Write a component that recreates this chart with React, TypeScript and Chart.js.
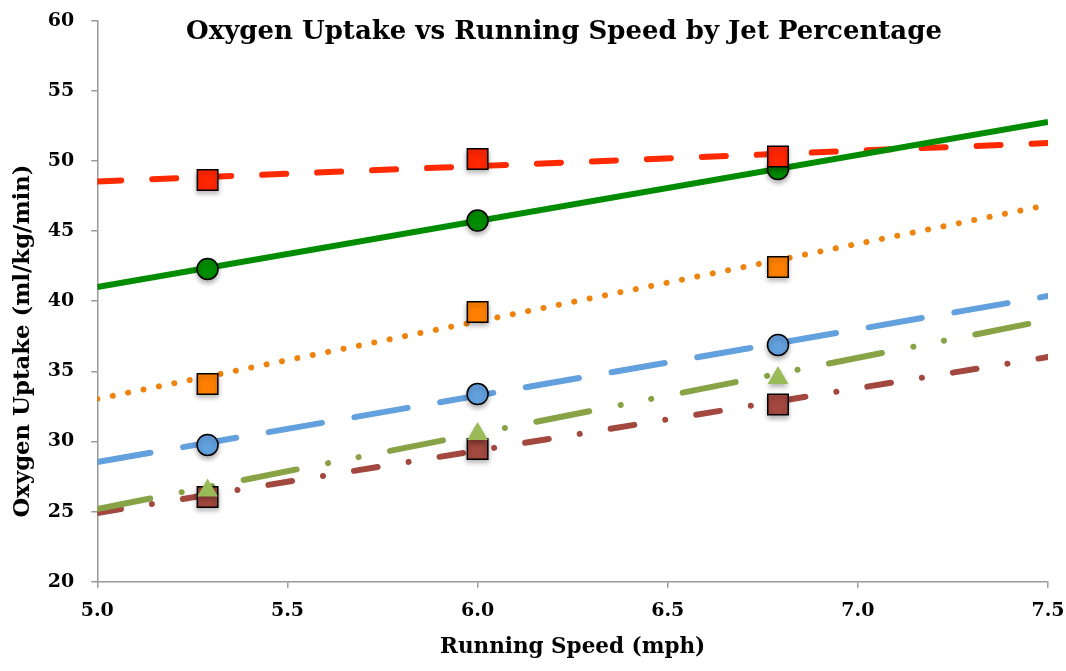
import React, { useEffect, useRef } from "react";
import { Chart, registerables } from "chart.js";

Chart.register(...registerables);

const chartTitle = "Oxygen Uptake vs Running Speed by Jet Percentage";
const xAxisTitle = "Running Speed (mph)";
const yAxisTitle = "Oxygen Uptake (ml/kg/min)";

const speeds = [5.29, 6.0, 6.79];
const trendX = [5.0, 7.5];

const redSquares = [48.64, 50.14, 50.32];
const greenCircles = [42.3, 45.75, 49.42];
const orangeSquares = [34.1, 39.23, 42.44];
const blueCircles = [29.75, 33.38, 36.88];
const oliveTriangles = [26.5, 30.53, 34.52];
const brownSquares = [26.04, 29.46, 32.63];

const redTrend = [48.54, 51.28];
const greenTrend = [41.01, 52.78];
const orangeTrend = [33.03, 46.86];
const blueTrend = [28.53, 40.37];
const oliveTrend = [25.18, 38.66];
const brownTrend = [24.9, 36.02];

const FONT = "'DejaVu Serif', serif";

const pts = (xs: number[], ys: number[]) => xs.map((x, i) => ({ x, y: ys[i] }));

const textPlugin = {
  id: "customText",
  afterDraw(chart: any) {
    const ctx = chart.ctx;
    ctx.save();
    ctx.fillStyle = "#000";
    ctx.textAlign = "center";
    ctx.textBaseline = "middle";
    ctx.font = `bold 26px ${FONT}`;
    ctx.fillText(chartTitle, 564, 32);
    ctx.translate(23, 341);
    ctx.rotate(-Math.PI / 2);
    ctx.font = `bold 22.8px ${FONT}`;
    ctx.fillText(yAxisTitle, 0, 0);
    ctx.restore();
  },
};

const shadowPlugin = {
  id: "markerShadow",
  beforeDatasetDraw(chart: any, args: any) {
    const ds = chart.data.datasets[args.index];
    if (ds.isMarker) {
      const ctx = chart.ctx;
      ctx.save();
      ctx.shadowColor = "rgba(0,0,0,0.3)";
      ctx.shadowBlur = 5;
      ctx.shadowOffsetY = 3;
    }
  },
  afterDatasetDraw(chart: any, args: any) {
    const ds = chart.data.datasets[args.index];
    if (ds.isMarker) chart.ctx.restore();
  },
};

function trendDs(label: string, ys: number[], color: string, dash: number[], order: number) {
  return {
    label,
    data: pts(trendX, ys),
    showLine: true,
    borderColor: color,
    backgroundColor: color,
    borderWidth: 6,
    borderDash: dash,
    borderCapStyle: dash.length ? "round" : "butt",
    pointRadius: 0,
    order,
  };
}

function markerDs(label: string, ys: number[], fill: string, style: string, radius: number, border: string, bw: number, order: number) {
  return {
    label,
    data: pts(speeds, ys),
    showLine: false,
    pointStyle: style,
    pointRadius: radius,
    pointBackgroundColor: fill,
    pointBorderColor: border,
    pointBorderWidth: bw,
    backgroundColor: fill,
    borderColor: border,
    order,
    isMarker: true,
  };
}

export default function App() {
  const ref = useRef<HTMLCanvasElement>(null);
  useEffect(() => {
    document.body.style.margin = "0";
    const chart = new Chart(ref.current as HTMLCanvasElement, {
      type: "scatter",
      data: {
        datasets: [
          trendDs("brown trend", brownTrend, "#A2483F", [24, 31.3, 0.1, 31.3], 112),
          trendDs("olive trend", oliveTrend, "#87A345", [54, 32, 0.1, 31, 0.1, 32], 111),
          trendDs("blue trend", blueTrend, "#62A0DE", [54, 33], 110),
          trendDs("orange trend", orangeTrend, "#EE8410", [0.1, 15.6], 109),
          trendDs("red trend", redTrend, "#FF2A00", [24, 31], 108),
          trendDs("green trend", greenTrend, "#008C00", [], 107),
          markerDs("brown", brownSquares, "#A2483F", "rect", 14.5, "#000", 1.5, 20),
          markerDs("olive", oliveTriangles, "#9BBB59", "triangle", 12, "#9BBB59", 0, 19),
          markerDs("blue", blueCircles, "#62A0DE", "circle", 10.5, "#000", 1.5, 18),
          markerDs("orange", orangeSquares, "#FF8000", "rect", 14.5, "#000", 1.5, 17),
          markerDs("green", greenCircles, "#008C00", "circle", 10.5, "#000", 1.5, 16),
          markerDs("red", redSquares, "#FF2600", "rect", 14.5, "#000", 1.5, 15),
        ] as any,
      },
      options: {
        animation: false,
        responsive: false,
        maintainAspectRatio: false,
        layout: { padding: { left: 0, right: 18, top: 20.7, bottom: 0 } },
        plugins: { legend: { display: false }, tooltip: { enabled: false }, title: { display: false } },
        scales: {
          x: {
            type: "linear",
            min: 5,
            max: 7.5,
            ticks: {
              stepSize: 0.5,
              color: "#000",
              padding: 12,
              font: { family: FONT, size: 19, weight: "bold" },
              callback: (v: any) => Number(v).toFixed(1),
            },
            grid: { drawOnChartArea: false, drawTicks: true, tickLength: 6, color: "#9a9a9a", lineWidth: 1.5 },
            border: { display: true, color: "#9a9a9a", width: 1.5 },
            title: {
              display: true,
              text: xAxisTitle,
              color: "#000",
              font: { family: FONT, size: 21.5, weight: "bold" },
              padding: { top: 0, bottom: 11 },
            },
            afterFit: (s: any) => { s.height = 89.3; s.paddingLeft = 0; s.paddingRight = 0; },
          },
          y: {
            type: "linear",
            min: 20,
            max: 60,
            ticks: {
              stepSize: 5,
              color: "#000",
              padding: 17,
              font: { family: FONT, size: 19, weight: "bold" },
            },
            grid: { drawOnChartArea: false, drawTicks: true, tickLength: 6, color: "#9a9a9a", lineWidth: 1.5 },
            border: { display: true, color: "#9a9a9a", width: 1.5 },
            title: { display: false },
            afterFit: (s: any) => { s.width = 97.3; s.paddingTop = 0; s.paddingBottom = 0; },
          },
        },
      } as any,
      plugins: [textPlugin, shadowPlugin],
    });
    return () => chart.destroy();
  }, []);
  return (
    <div style={{ width: 1066, height: 671, background: "#fff" }}>
      <canvas ref={ref} width={1066} height={671} style={{ display: "block", width: 1066, height: 671 }} />
    </div>
  );
}
